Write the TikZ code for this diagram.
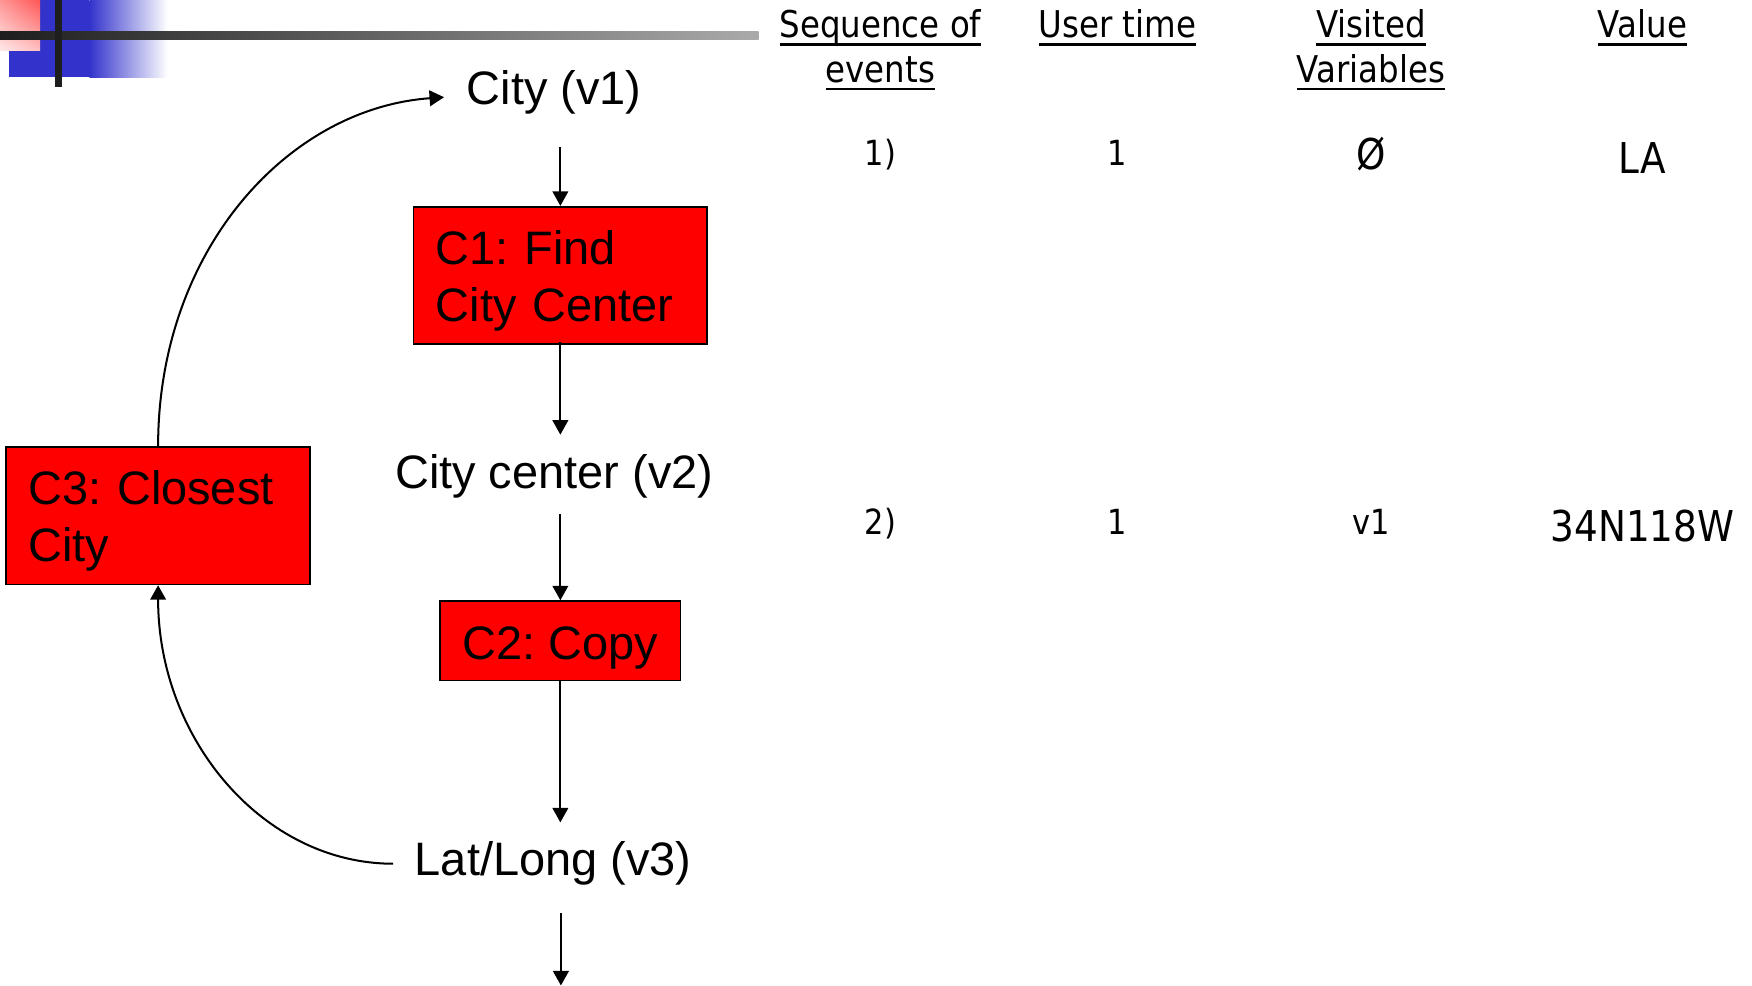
\documentclass[tikz,border=0pt]{standalone}
\usepackage{fontspec}
\setmainfont{Liberation Sans}
\newfontfamily\tabfont{DejaVu Sans}[FakeStretch=0.88]
\usetikzlibrary{arrows.meta,shadings}
\frenchspacing

% underline at a fixed distance below the baseline
\newcommand\ulhead[1]{\setbox0\hbox{#1}\leavevmode\rlap{\vrule width\wd0 height -2.4pt depth 3.4pt}\box0}
% taller first line, so box texts sit a little low
\newcommand\lowstrut{\rule{0pt}{20pt}}

\definecolor{decoblue}{RGB}{51,51,204}
\definecolor{decodark}{RGB}{30,30,30}
\definecolor{decomid}{RGB}{60,60,60}
\definecolor{decolight}{RGB}{170,170,170}
\definecolor{pinkA}{RGB}{255,85,85}
\definecolor{pinkB}{RGB}{255,150,150}
\definecolor{pinkC}{RGB}{255,190,190}
\definecolor{pinkD}{RGB}{255,232,232}

\tikzset{
  varnode/.style={font=\fontsize{21}{26}\selectfont, inner xsep=0pt, inner ysep=8.5pt},
  procbox/.style={draw=black, line width=0.75pt, fill=red, inner xsep=10pt, inner ysep=0pt,
                  font=\fontsize{21}{25.5}\selectfont},
  arr/.style={line width=0.9pt, -{Triangle[length=6.5pt,width=7pt]}},
  hdr/.style={anchor=base, inner sep=0pt, font=\tabfont\fontsize{16.5}{20}\selectfont},
  cell/.style={anchor=base, inner sep=0pt, font=\tabfont\fontsize{15.5}{19}\selectfont},
  bigcell/.style={anchor=base, inner sep=0pt, font=\tabfont\fontsize{19}{23}\selectfont}
}

\begin{document}
\begin{tikzpicture}[x=0.5pt, y=-0.5pt]
\useasboundingbox (0,0) rectangle (1568,882);

% corner ornament
\fill[decoblue] (8,0) rectangle (80,69);
\shade[left color=decoblue, right color=white] (80,0) rectangle (150,69);
\shade[upper left=pinkB, upper right=pinkA, lower left=pinkD, lower right=pinkC]
  (0,0) rectangle (36,45);
\shade[left color=decodark, right color=decolight] (0,28) rectangle (679,35);
\fill[decodark] (49,0) rectangle (55.5,77.5);

% variables
\node[varnode] (v1) at (496,83) {City (v1)};
\node[varnode] (v2) at (496,426) {City center (v2)};
\node[varnode] (v3) at (495,773) {Lat/Long (v3)};

% computations
\node[procbox, minimum width=131.5pt, minimum height=61.5pt, text width=111.5pt, align=left]
  (c1) at (501.5,246.5) {\lowstrut C1: Find\\City Center};
\node[procbox, minimum width=107.5pt, minimum height=35.5pt, align=center]
  (c2) at (501.5,573.5) {\rule{0pt}{21pt}C2: Copy};
\node[procbox, minimum width=135.5pt, minimum height=61.5pt, text width=116pt, align=left]
  (c3) at (141.5,461.5) {\lowstrut C3: Closest\\City};

\coordinate (exit) at (502,882);

% data flow
\draw[arr, shorten <=6pt] (c1.north |- v1.south) -- (c1.north);
\draw[arr, shorten <=-1.5pt] (c1.south) -- (c1.south |- v2.north);
\draw[arr, shorten <=-1.5pt] (c2.north |- v2.south) -- (c2.north);
\draw[arr] (c2.south) -- (c2.south |- v3.north);
\draw[arr, shorten <=3.5pt] (exit |- v3.south) -- (exit);

% feedback loop
\draw[arr] (c3.north) .. controls +(0,-175) and +(-140,10) .. ([shift={(-20,4)}]v1.west);
\draw[arr] ([shift={(-19,0)}]v3.west) .. controls +(-116,0) and +(0,138) .. (c3.south);

% event table
\node[hdr] (h1a) at (788,34) {\ulhead{Sequence of}};
\node[hdr] (h1b) at (788,74) {\ulhead{events}};
\node[hdr] (h2) at (1000,34) {\ulhead{User time}};
\node[hdr] (h3a) at (1227,34) {\ulhead{Visited}};
\node[hdr] (h3b) at (1227,74) {\ulhead{Variables}};
\node[hdr] (h4) at (1470,34) {\ulhead{Value}};

\node[cell] (r1a) at (788,148) {1)};
\node[cell] (r1b) at (1000,148) {1};
\node[bigcell] (r1c) at (1227,152) {Ø};
\node[bigcell] (r1d) at (1470,155) {LA};

\node[cell] (r2a) at (788,478) {2)};
\node[cell] (r2b) at (1000,478) {1};
\node[cell] (r2c) at (1227,478) {v1};
\node[bigcell] (r2d) at (1470,485) {34N118W};
\end{tikzpicture}
\end{document}
